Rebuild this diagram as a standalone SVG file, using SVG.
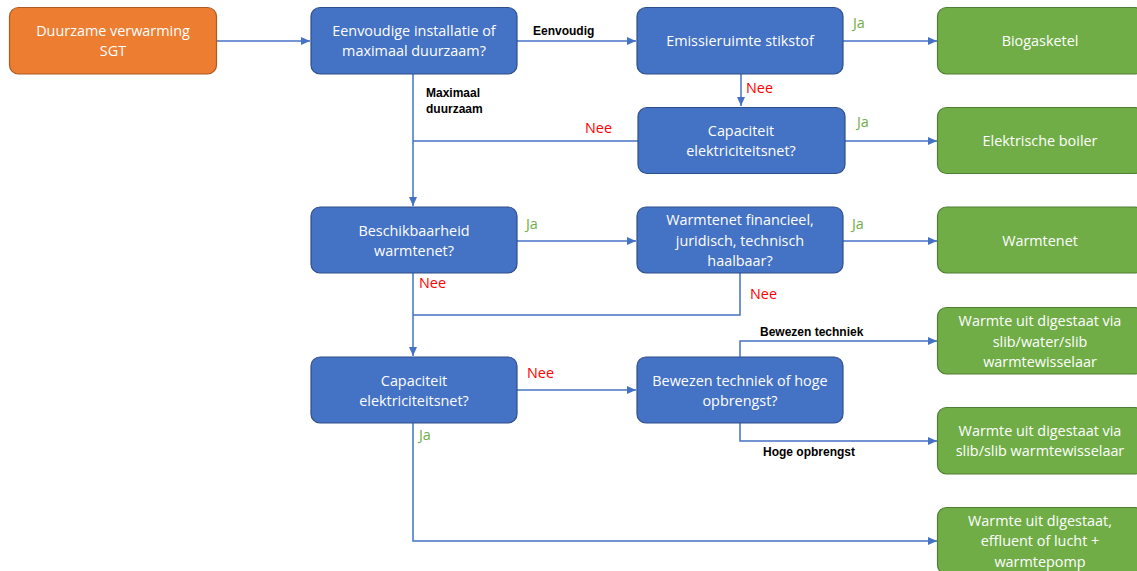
<svg xmlns="http://www.w3.org/2000/svg" width="1137" height="571" viewBox="0 0 1137 571">
<style>
.box{stroke-width:1.2}
.o{fill:#ED7D31;stroke:#AE5A21}
.b{fill:#4472C4;stroke:#2F4F8A}
.g{fill:#70AD47;stroke:#507E32}
.t{font-family:"Open Sans","Liberation Sans",sans-serif;font-size:14.4px;fill:#FFFFFF;text-anchor:middle}
.c{fill:none;stroke:#4472C4;stroke-width:1.5}
.lb{font-family:"Liberation Sans",Arial,sans-serif;font-size:12px;font-weight:bold;fill:#000000}
.ja{font-family:"Open Sans","Liberation Sans",sans-serif;font-size:14.4px;fill:#70AD47}
.nee{font-family:"Open Sans","Liberation Sans",sans-serif;font-size:14.4px;fill:#FF0000}
</style>
<defs>
<marker id="arr" markerWidth="10" markerHeight="8" refX="9" refY="4" orient="auto" markerUnits="userSpaceOnUse">
<path d="M0,0 L9,4 L0,8 Z" fill="#4472C4"/>
</marker>
</defs>
<rect width="1137" height="571" fill="#FFFFFF"/>
<g id="connectors">
<path class="c" d="M217,41 H310" marker-end="url(#arr)"/>
<path class="c" d="M517,41 H636" marker-end="url(#arr)"/>
<path class="c" d="M843,41 H937" marker-end="url(#arr)"/>
<path class="c" d="M741,74 V106" marker-end="url(#arr)"/>
<path class="c" d="M845,141 H937" marker-end="url(#arr)"/>
<path class="c" d="M638,141 H413"/>
<path class="c" d="M413,74 V206" marker-end="url(#arr)"/>
<path class="c" d="M517,241 H636" marker-end="url(#arr)"/>
<path class="c" d="M843,241 H937" marker-end="url(#arr)"/>
<path class="c" d="M413,273 V356" marker-end="url(#arr)"/>
<path class="c" d="M740,273 V315 H413"/>
<path class="c" d="M517,390 H636" marker-end="url(#arr)"/>
<path class="c" d="M740,357 V341 H937" marker-end="url(#arr)"/>
<path class="c" d="M740,423 V441 H937" marker-end="url(#arr)"/>
<path class="c" d="M413,423 V541 H937" marker-end="url(#arr)"/>
<text class="lb" x="533" y="35">Eenvoudig</text>
<text class="lb" x="426" y="97">Maximaal</text>
<text class="lb" x="426" y="113">duurzaam</text>
<text class="ja" x="853" y="28">Ja</text>
<text class="nee" x="746" y="93">Nee</text>
<text class="nee" x="585" y="133">Nee</text>
<text class="ja" x="857" y="127">Ja</text>
<text class="ja" x="526" y="229">Ja</text>
<text class="ja" x="852" y="229">Ja</text>
<text class="nee" x="419" y="288">Nee</text>
<text class="nee" x="750" y="299">Nee</text>
<text class="nee" x="527" y="378">Nee</text>
<text class="ja" x="419" y="440">Ja</text>
<text class="lb" x="760" y="336">Bewezen techniek</text>
<text class="lb" x="763" y="456">Hoge opbrengst</text>
</g>
<g id="start">
<rect class="box o" x="9.5" y="7.5" width="207" height="66.5" rx="9"/>
<text class="t" x="113" y="36">Duurzame verwarming</text>
<text class="t" x="113" y="56">SGT</text>
</g>
<g id="q-eenvoudig">
<rect class="box b" x="311" y="7.5" width="206" height="66.5" rx="9"/>
<text class="t" x="414" y="36">Eenvoudige installatie of</text>
<text class="t" x="414" y="56">maximaal duurzaam?</text>
</g>
<g id="q-emissie">
<rect class="box b" x="637" y="7.5" width="206" height="66.5" rx="9"/>
<text class="t" x="740" y="46">Emissieruimte stikstof</text>
</g>
<g id="biogasketel">
<rect class="box g" x="937.5" y="7.5" width="206" height="66.5" rx="9"/>
<text class="t" x="1040" y="46">Biogasketel</text>
</g>
<g id="q-capaciteit1">
<rect class="box b" x="638" y="107.5" width="207" height="66" rx="9"/>
<text class="t" x="741" y="136">Capaciteit</text>
<text class="t" x="741" y="156">elektriciteitsnet?</text>
</g>
<g id="elektrische-boiler">
<rect class="box g" x="937.5" y="107.5" width="206" height="66" rx="9"/>
<text class="t" x="1040" y="146">Elektrische boiler</text>
</g>
<g id="q-beschikbaarheid">
<rect class="box b" x="311" y="207" width="206" height="66" rx="9"/>
<text class="t" x="414" y="236">Beschikbaarheid</text>
<text class="t" x="414" y="256">warmtenet?</text>
</g>
<g id="q-warmtenet">
<rect class="box b" x="637" y="207" width="206" height="66" rx="9"/>
<text class="t" x="740" y="225">Warmtenet financieel,</text>
<text class="t" x="740" y="245.5">juridisch, technisch</text>
<text class="t" x="740" y="266">haalbaar?</text>
</g>
<g id="warmtenet">
<rect class="box g" x="937.5" y="207" width="206" height="66" rx="9"/>
<text class="t" x="1040" y="245.5">Warmtenet</text>
</g>
<g id="q-capaciteit2">
<rect class="box b" x="311" y="357" width="206" height="66" rx="9"/>
<text class="t" x="414" y="386">Capaciteit</text>
<text class="t" x="414" y="406">elektriciteitsnet?</text>
</g>
<g id="q-bewezen">
<rect class="box b" x="637" y="357" width="206" height="66" rx="9"/>
<text class="t" x="740" y="386">Bewezen techniek of hoge</text>
<text class="t" x="740" y="406">opbrengst?</text>
</g>
<g id="wisselaar-water">
<rect class="box g" x="937.5" y="307.5" width="206" height="66.5" rx="9"/>
<text class="t" x="1040" y="326">Warmte uit digestaat via</text>
<text class="t" x="1040" y="346.5">slib/water/slib</text>
<text class="t" x="1040" y="367">warmtewisselaar</text>
</g>
<g id="wisselaar-slib">
<rect class="box g" x="937.5" y="407.5" width="206" height="66.5" rx="9"/>
<text class="t" x="1040" y="436">Warmte uit digestaat via</text>
<text class="t" x="1040" y="456">slib/slib warmtewisselaar</text>
</g>
<g id="warmtepomp">
<rect class="box g" x="937.5" y="507.5" width="206" height="66.5" rx="9"/>
<text class="t" x="1040" y="525.5">Warmte uit digestaat,</text>
<text class="t" x="1040" y="546">effluent of lucht +</text>
<text class="t" x="1040" y="566.5">warmtepomp</text>
</g>
</svg>
